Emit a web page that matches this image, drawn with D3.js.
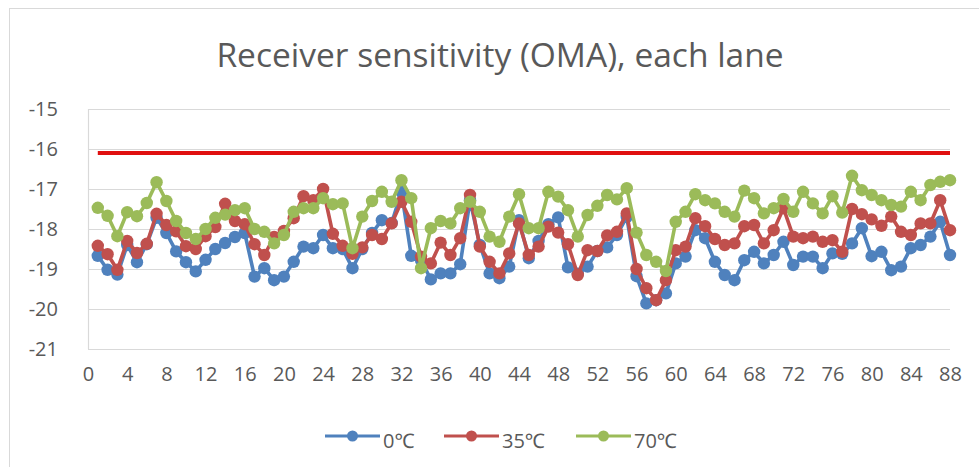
<!DOCTYPE html>
<html>
<head>
<meta charset="utf-8">
<script src="https://cdn.jsdelivr.net/npm/d3@7"></script>
<style>
  html, body { margin: 0; padding: 0; background: #fff; }
  svg { display: block; }
  text { font-family: "Open Sans", "Noto Sans", sans-serif; fill: #595959; }
</style>
</head>
<body>
<svg id="chart" width="979" height="467"></svg>
<script>
// Receiver sensitivity (OMA, dBm) per lane at three case temperatures
const lanes = d3.range(1, 89);

const sens0C = [
  -18.67, -19.02, -19.14, -18.40, -18.83, -18.38, -17.72, -18.10, -18.56, -18.83,
  -19.06, -18.77, -18.50, -18.35, -18.20, -18.10, -19.19, -18.98, -19.28, -19.19,
  -18.82, -18.44, -18.48, -18.15, -18.48, -18.50, -18.98, -18.50, -18.10, -17.78,
  -17.85, -17.07, -18.67, -18.78, -19.26, -19.11, -19.11, -18.88, -17.28, -18.40,
  -19.11, -19.23, -18.94, -17.78, -18.73, -18.30, -17.88, -17.71, -18.96, -19.12,
  -18.94, -18.55, -18.46, -18.15, -17.70, -19.18, -19.86, -19.78, -19.61, -18.86,
  -18.69, -18.03, -18.23, -18.82, -19.15, -19.28, -18.78, -18.57, -18.86, -18.65,
  -18.32, -18.90, -18.69, -18.69, -18.98, -18.61, -18.62, -18.36, -17.98, -18.68,
  -18.57, -19.03, -18.94, -18.48, -18.40, -18.19, -17.82, -18.65
];

const sens35C = [
  -18.42, -18.63, -19.02, -18.30, -18.60, -18.37, -17.62, -17.90, -18.06, -18.43,
  -18.50, -18.18, -17.95, -17.37, -17.80, -17.88, -18.38, -18.65, -18.20, -18.05,
  -17.73, -17.18, -17.28, -17.00, -18.12, -18.42, -18.62, -18.46, -18.15, -18.25,
  -17.86, -17.32, -17.82, -18.69, -18.86, -18.34, -18.65, -18.23, -17.15, -18.44,
  -18.82, -19.11, -18.61, -17.86, -18.65, -18.44, -17.94, -18.09, -18.38, -19.15,
  -18.53, -18.55, -18.16, -18.07, -17.61, -19.00, -19.48, -19.78, -19.28, -18.53,
  -18.44, -17.73, -17.93, -18.25, -18.40, -18.36, -17.93, -17.90, -18.36, -18.03,
  -17.48, -18.19, -18.23, -18.19, -18.32, -18.28, -18.57, -17.50, -17.63, -17.76,
  -17.92, -17.69, -18.07, -18.15, -17.86, -17.86, -17.28, -18.03
];

const sens70C = [
  -17.47, -17.67, -18.18, -17.58, -17.68, -17.35, -16.83, -17.30, -17.80, -18.10,
  -18.25, -18.00, -17.72, -17.64, -17.53, -17.48, -18.00, -18.07, -18.36, -18.15,
  -17.57, -17.48, -17.48, -17.23, -17.38, -17.36, -18.48, -17.69, -17.30, -17.07,
  -17.32, -16.78, -17.23, -18.98, -17.98, -17.80, -17.86, -17.48, -17.32, -17.57,
  -18.19, -18.32, -17.69, -17.13, -17.98, -17.98, -17.07, -17.19, -17.53, -18.19,
  -17.65, -17.42, -17.15, -17.26, -16.98, -18.09, -18.65, -18.82, -19.05, -17.82,
  -17.57, -17.13, -17.28, -17.36, -17.57, -17.69, -17.04, -17.23, -17.61, -17.48,
  -17.25, -17.57, -17.07, -17.36, -17.61, -17.18, -17.59, -16.67, -17.03, -17.15,
  -17.28, -17.40, -17.44, -17.07, -17.28, -16.90, -16.82, -16.78
];

// Specification limit drawn across all lanes
const limitValue = -16.1;

const seriesNames = ["0℃", "35℃", "70℃"];
const seriesColors = ["#4F81BD", "#C0504D", "#9BBB59"];
const seriesValues = [sens0C, sens35C, sens70C];

const xTicks = d3.range(0, 89, 4);
const yTicks = [-15, -16, -17, -18, -19, -20, -21];

const svg = d3.select("#chart");

// outer chart frame
svg.append("rect")
  .attr("x", 9.5).attr("y", 8.5)
  .attr("width", 1000).attr("height", 500)
  .attr("fill", "none").attr("stroke", "#d9d9d9").attr("stroke-width", 1);

svg.append("text")
  .attr("x", 500).attr("y", 67)
  .attr("text-anchor", "middle")
  .style("font-size", "33.5px")
  .text("Receiver sensitivity (OMA), each lane");

const x = d3.scaleLinear().domain([0, 88]).range([88, 950]);
const y = d3.scaleLinear().domain([-21, -15]).range([349, 109]);

// horizontal gridlines
svg.append("g").selectAll("line").data(yTicks).join("line")
  .attr("x1", x(0)).attr("x2", x(88))
  .attr("y1", d => Math.round(y(d)) + 0.5).attr("y2", d => Math.round(y(d)) + 0.5)
  .attr("stroke", "#d9d9d9").attr("stroke-width", 1.2);

// vertical axis line
svg.append("line")
  .attr("x1", Math.round(x(0)) + 0.5).attr("x2", Math.round(x(0)) + 0.5)
  .attr("y1", y(-15)).attr("y2", y(-21))
  .attr("stroke", "#d9d9d9").attr("stroke-width", 1.2);

const yAxis = svg.append("g")
  .attr("transform", `translate(${x(0)},0)`)
  .call(d3.axisLeft(y).tickValues(yTicks).tickSize(0).tickPadding(30)
    .tickFormat(d => String(d)));
yAxis.select(".domain").remove();
yAxis.selectAll("text").style("font-size", "20px").style("font-family", null).attr("fill", null);

const xAxis = svg.append("g")
  .attr("transform", `translate(0,${y(-21)})`)
  .call(d3.axisBottom(x).tickValues(xTicks).tickSize(0).tickPadding(18));
xAxis.select(".domain").remove();
xAxis.selectAll("text").style("font-size", "20px").style("font-family", null).attr("fill", null);

// limit line
svg.append("line")
  .attr("x1", x(1)).attr("x2", x(88))
  .attr("y1", y(limitValue)).attr("y2", y(limitValue))
  .attr("stroke", "#E01010").attr("stroke-width", 4);

const line = d3.line()
  .x((d, i) => x(lanes[i]))
  .y(d => y(d));

seriesValues.forEach((vals, k) => {
  const g = svg.append("g");
  g.append("path")
    .datum(vals)
    .attr("d", line)
    .attr("fill", "none")
    .attr("stroke", seriesColors[k])
    .attr("stroke-width", 3.6)
    .attr("stroke-linejoin", "round");
  g.selectAll("circle").data(vals).join("circle")
    .attr("cx", (d, i) => x(lanes[i]))
    .attr("cy", d => y(d))
    .attr("r", 6.2)
    .attr("fill", seriesColors[k]);
});

// legend
const legendX = [325, 444, 576];
const legend = svg.append("g");
seriesNames.forEach((name, k) => {
  const lx = legendX[k];
  legend.append("line")
    .attr("x1", lx).attr("x2", lx + 55)
    .attr("y1", 436).attr("y2", 436)
    .attr("stroke", seriesColors[k]).attr("stroke-width", 3);
  legend.append("circle")
    .attr("cx", lx + 27.5).attr("cy", 436).attr("r", 5.5)
    .attr("fill", seriesColors[k]);
  legend.append("text")
    .attr("x", lx + 58).attr("y", 448)
    .style("font-size", "20px")
    .text(name);
});
</script>
</body>
</html>
